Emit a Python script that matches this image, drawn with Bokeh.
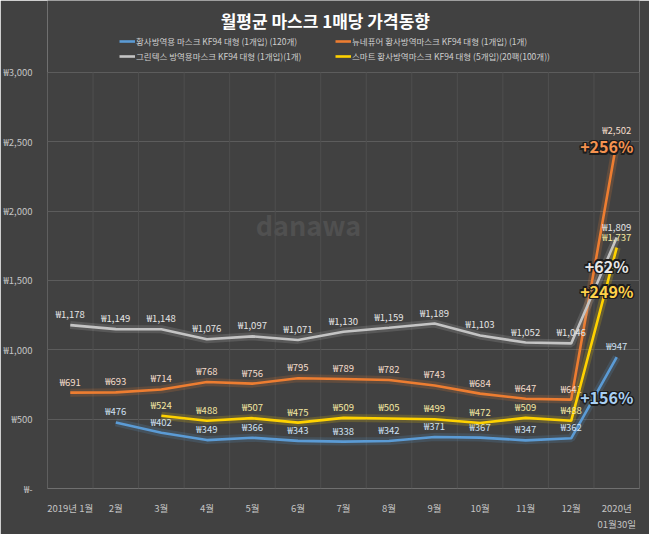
from bokeh.plotting import figure
from bokeh.models import ColumnDataSource, Range1d, FixedTicker, Legend, LegendItem
from bokeh.core.properties import value
from bokeh.embed import file_html
from bokeh.resources import INLINE

# ---------------- data ----------------
months = ["2019년 1월", "2월", "3월", "4월", "5월", "6월", "7월", "8월", "9월",
          "10월", "11월", "12월", "2020년\n01월30일"]
blue_vals = [None, 476, 402, 349, 366, 343, 338, 342, 371, 367, 347, 362, 947]
orange_vals = [691, 693, 714, 768, 756, 795, 789, 782, 743, 684, 647, 641, 2502]
gray_vals = [1178, 1149, 1148, 1076, 1097, 1071, 1130, 1159, 1189, 1103, 1052, 1046, 1809]
yellow_vals = [None, None, 524, 488, 507, 475, 509, 505, 499, 472, 509, 488, 1737]
series_names = [
    "황사방역용 마스크 KF94 대형 (1개입) (120개)",
    "뉴네퓨어 황사방역마스크 KF94 대형 (1개입) (1개)",
    "그린텍스 방역용마스크 KF94 대형 (1개입)(1개)",
    "스마트 황사방역마스크 KF94 대형 (5개입)(20팩(100개))",
]
pct_labels = ["+156%", "+256%", "+62%", "+249%"]
y_ticks = [0, 500, 1000, 1500, 2000, 2500, 3000]
y_tick_labels = ["₩-", "₩500", "₩1,000", "₩1,500", "₩2,000", "₩2,500", "₩3,000"]
title_text = "월평균 마스크 1매당 가격동향"

# ---------------- style ----------------
FONT = "Noto Sans CJK KR"
BG = "#414141"
line_colors = ["#5b9bd5", "#ed7d31", "#c4c4c4", "#ffd200"]
label_colors = ["#cfe0f2", "#f3dccb", "#e4e4e4", "#f2e6a0"]
pct_colors = ["#a9cff2", "#f5924f", "#e6e6e6", "#ffd24a"]
pct_yoff = [40, 5, 28, 43]

n = len(months)
xc = [i + 0.5 for i in range(n)]
Y_TOP = 3518  # headroom above the 3,000 line for title and legend

p = figure(width=649, height=534, output_backend="svg", toolbar_location=None,
           x_range=Range1d(0, n), y_range=Range1d(0, Y_TOP),
           background_fill_color=BG, border_fill_color=BG,
           min_border_left=45, min_border_right=10, min_border_bottom=40, min_border_top=0)
p.outline_line_color = None

# grids
p.ygrid.ticker = FixedTicker(ticks=y_ticks)
p.ygrid.grid_line_color = "#5c5c5c"
p.ygrid.grid_line_width = 1
p.xgrid.grid_line_color = None
bounds = list(range(n + 1))
p.segment(x0=bounds, y0=[0] * len(bounds), x1=bounds, y1=[y_ticks[-1]] * len(bounds),
          line_color="#4f4f4f", line_width=1)

# axes
for ax in (p.xaxis[0], p.yaxis[0]):
    ax.axis_line_color = None
    ax.major_tick_line_color = None
    ax.minor_tick_line_color = None
    ax.major_label_text_color = "#c4c4c4"
    ax.major_label_text_font = FONT
    ax.major_label_text_font_size = "9.5px"
p.yaxis.ticker = FixedTicker(ticks=y_ticks)
p.yaxis.major_label_overrides = {t: l for t, l in zip(y_ticks, y_tick_labels)}
p.yaxis.major_label_standoff = 9
p.xaxis.ticker = FixedTicker(ticks=xc)
p.xaxis.major_label_overrides = {x: m for x, m in zip(xc, months)}
p.xaxis.major_label_standoff = 6

# title and watermark (screen offsets from the top of the frame)
p.text(x=[6.1], y=[Y_TOP], text=[title_text], text_font=value(FONT), text_font_size="17px",
       text_font_style="bold", text_color="#ffffff", text_align="center",
       text_baseline="middle", y_offset=20)
p.text(x=[5.73], y=[Y_TOP], text=["danawa"], text_font=value(FONT), text_font_size="27px",
       text_font_style="bold", text_color="#505050", text_align="center",
       text_baseline="middle", y_offset=224)

all_vals = [blue_vals, orange_vals, gray_vals, yellow_vals]
legend_items = []
for k, vals in enumerate(all_vals):
    ys = [float("nan") if v is None else v for v in vals]
    src = ColumnDataSource(dict(x=xc, y=ys))
    p.line("x", "y", source=src, line_color=line_colors[k], line_width=8, line_alpha=0.18)
    r = p.line("x", "y", source=src, line_color=line_colors[k], line_width=2.6)
    legend_items.append(LegendItem(label=series_names[k], renderers=[r]))
    lx = [x for x, v in zip(xc, vals) if v is not None]
    ly = [v for v in vals if v is not None]
    lt = ["₩{:,}".format(v) for v in ly]
    lsrc = ColumnDataSource(dict(x=lx, y=ly, t=lt))
    p.text("x", "y", text="t", source=lsrc, text_font=value(FONT), text_font_size="9.5px",
           text_color=label_colors[k], text_align="center", text_baseline="middle",
           y_offset=-11)

# percentage callouts at the final point of each series (dark halo + coloured fill)
halo = [(-1.5, 0), (1.5, 0), (0, -1.5), (0, 1.5), (-1.2, -1.2), (1.2, 1.2), (-1.2, 1.2), (1.2, -1.2)]
for k, vals in enumerate(all_vals):
    src = ColumnDataSource(dict(x=[xc[-1]], y=[vals[-1]], t=[pct_labels[k]]))
    for dx, dy in halo:
        p.text("x", "y", text="t", source=src, text_font=value(FONT), text_font_size="16px",
               text_font_style="bold", text_color="#1c1c1c", text_align="center",
               text_baseline="middle", x_offset=-10 + dx, y_offset=pct_yoff[k] + dy)
    p.text("x", "y", text="t", source=src, text_font=value(FONT), text_font_size="16px",
           text_font_style="bold", text_color=pct_colors[k], text_align="center",
           text_baseline="middle", x_offset=-10, y_offset=pct_yoff[k])

leg_kw = dict(background_fill_alpha=0, border_line_color=None,
              label_text_font=FONT, label_text_font_size="8.5px", label_text_color="#cfcfcf",
              glyph_width=16, glyph_height=8, label_standoff=1, spacing=1,
              padding=0, margin=0, label_height=14)
legA = Legend(items=[legend_items[0], legend_items[2]], location=(72, 425), **leg_kw)
legB = Legend(items=[legend_items[1], legend_items[3]], location=(288, 425), **leg_kw)
p.add_layout(legA)
p.add_layout(legB)

open("out.html", "w").write(file_html(p, INLINE))
